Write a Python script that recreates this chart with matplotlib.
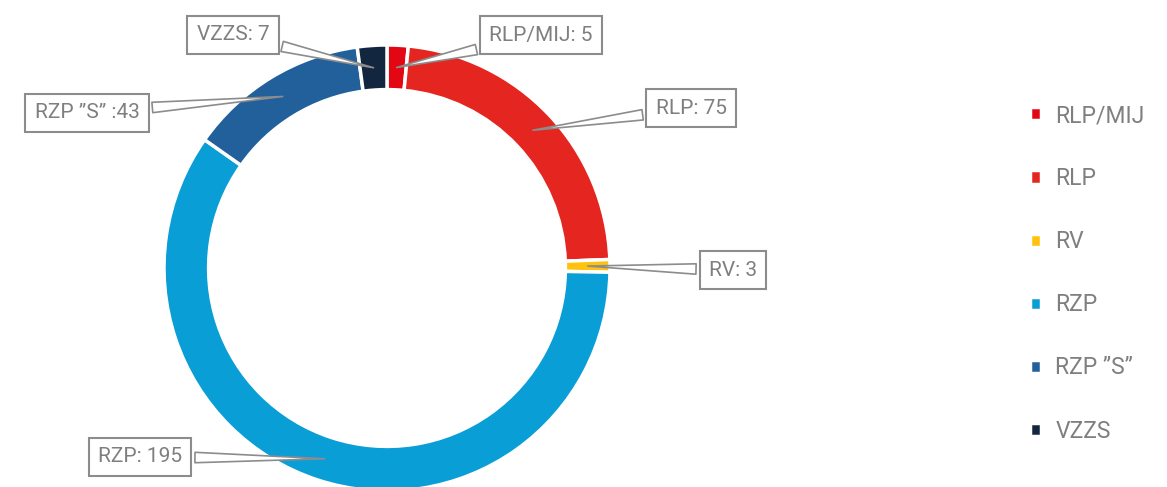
import numpy as np
import matplotlib.pyplot as plt

# data
labels = ['RLP/MIJ', 'RLP', 'RV', 'RZP', 'RZP \u201dS\u201d', 'VZZS']
values = [5, 75, 3, 195, 43, 7]
callouts = ['RLP/MIJ: 5', 'RLP: 75', 'RV: 3', 'RZP: 195', 'RZP \u201dS\u201d :43', 'VZZS: 7']
colors = ['#E30613', '#E42520', '#FFC20E', '#0A9ED6', '#21609B', '#13263F']

# where the callout boxes sit (pixel coords, y down)
box_pos = [(541, 35), (691, 108), (733, 270), (140, 457), (87, 113), (233, 35)]
# fraction along ring radius where pointer ends
tip_r = [0.9, 0.9, 0.9, 0.9, 0.9, 0.9]

W, H = 1167, 487
plt.rcParams['font.family'] = ['Roboto', 'DejaVu Sans']
fig = plt.figure(figsize=(W / 100, H / 100), dpi=100)
ax = fig.add_axes([0, 0, 1, 1])

cx, cy, R = 387, H - 268, 223
wedges, _ = ax.pie(values, colors=colors, startangle=90, counterclock=False,
                   radius=R, center=(cx, cy), frame=True,
                   wedgeprops=dict(width=R * 0.2, edgecolor='white', linewidth=2.5))
ax.set_xlim(0, W)
ax.set_ylim(0, H)
ax.set_aspect('equal')
ax.axis('off')

# callout labels
for w, txt, (bx, by), rf in zip(wedges, callouts, box_pos, tip_r):
    ang = np.deg2rad((w.theta1 + w.theta2) / 2)
    tx = cx + R * rf * np.cos(ang)
    ty = cy + R * rf * np.sin(ang)
    ax.annotate(txt, xy=(tx, ty), xytext=(bx, H - by), ha='center', va='center',
                fontsize=15, color='#7F7F7F',
                bbox=dict(boxstyle='square,pad=0.45', fc='white', ec='#8C8C8C', lw=1.5),
                arrowprops=dict(arrowstyle='wedge,tail_width=0.5,shrink_factor=0.5',
                                fc='white', ec='#8C8C8C', lw=1.2, shrinkB=0))

ax.legend(wedges, labels, loc='upper left', bbox_to_anchor=(1030 / W, 1 - 104 / H),
          frameon=False, fontsize=16.5, labelcolor='#7F7F7F',
          handlelength=0.5, handleheight=0.5, handletextpad=0.6, labelspacing=1.75,
          borderaxespad=0, borderpad=0)

fig.savefig('out.png', dpi=100)
